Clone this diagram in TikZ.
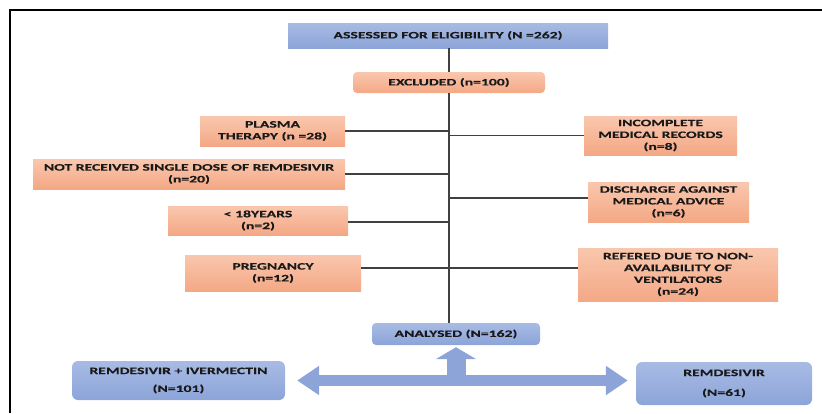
\documentclass[tikz,border=0pt]{standalone}
\usepackage{fontspec}
\setmainfont{Carlito}[FakeStretch=1.6,BoldFeatures={FakeBold=0.4}]
\usetikzlibrary{arrows.meta}
\definecolor{boxblue}{HTML}{8CA4D8}
\definecolor{boxblueL}{HTML}{A8BBE5}
\definecolor{boxorange}{HTML}{F4A885}
\definecolor{boxorangeL}{HTML}{F9C7AE}
\newcommand{\flowfont}{\fontsize{9.8}{11.8}\selectfont\bfseries}
\tikzset{
  boxsize/.style 2 args={minimum width=#1pt,minimum height=#2pt},
  bluebox/.style={top color=boxblueL,bottom color=boxblue,inner sep=0pt,align=center,font=\flowfont,text=black!90},
  orangebox/.style={top color=boxorangeL,bottom color=boxorange,inner sep=0pt,align=center,font=\flowfont,text=black!90},
  link/.style={draw=black!75,line width=1.2pt},
  fatarrow/.style={draw=boxblue,line width=#1}
}
\begin{document}
\begin{tikzpicture}[x=1pt,y=-1pt]
\useasboundingbox (0,0) rectangle (822,413);
\draw[line width=2pt] (10,413) -- (10,10) -- (822,10);

% top of the chart
\node[bluebox,boxsize={320}{25}] (assess) at (448,35.5) {ASSESSED FOR ELIGIBILITY (N =262)};
\node[orangebox,rounded corners=4pt,boxsize={192}{21}] (excl) at (449,82.5) {EXCLUDED (n=100)};

% excluded, left side
\node[orangebox,boxsize={145}{30}] (plasma) at (272.5,131) {PLASMA\\THERAPY (n =28)};
\node[orangebox,boxsize={312}{30}] (notrec) at (189,174) {NOT RECEIVED SINGLE DOSE OF REMDESIVIR\\(n=20)};
\node[orangebox,boxsize={180}{29}] (young) at (258,220.5) {< 18YEARS\\(n=2)};
\node[orangebox,boxsize={176}{36}] (preg) at (273,273) {PREGNANCY\\(n=12)};

% excluded, right side
\node[orangebox,boxsize={153}{39}] (incomp) at (660.5,135.5) {INCOMPLETE\\MEDICAL RECORDS\\(n=8)};
\node[orangebox,boxsize={161}{40}] (disch) at (668.5,202) {DISCHARGE AGAINST\\MEDICAL ADVICE\\(n=6)};
\node[orangebox,boxsize={200}{53}] (refer) at (678,274.5) {REFERED DUE TO NON-\\AVAILABILITY OF\\VENTILATORS\\(n=24)};

% bottom
\node[bluebox,rounded corners=4pt,boxsize={168}{22}] (anal) at (456,334) {ANALYSED (N=162)};
\node[bluebox,rounded corners=6pt,boxsize={213}{39}] (combo) at (178.5,380.5) {REMDESIVIR + IVERMECTIN\\[6pt](N=101)};
\node[bluebox,rounded corners=6pt,boxsize={176}{43}] (remd) at (724,383.5) {REMDESIVIR\\[8pt](N=61)};

\draw[link] (assess.south -| excl.north) -- (excl.north);
\draw[link] (excl.south) -- (excl.south |- anal.north);
\draw[link] (plasma.east) -- (plasma.east -| excl.south);
\draw[link] (notrec.east) -- (notrec.east -| excl.south);
\draw[link] ([yshift=-1.5pt]young.east) -- ([yshift=-1.5pt]young.east -| excl.south);
\draw[link] ([yshift=5pt]preg.east) -- ([yshift=5pt]preg.east -| excl.south);
\draw[link] (incomp.west) -- (incomp.west -| excl.south);
\draw[link] ([yshift=4pt]disch.west) -- ([yshift=4pt]disch.west -| excl.south);
\draw[link] ([yshift=6.5pt]refer.west) -- ([yshift=6.5pt]refer.west -| excl.south);

% block arrows
\coordinate (split) at (anal.south |- combo.east);
\draw[fatarrow=11pt,{Triangle[width=28pt,length=22pt]}-{Triangle[width=28pt,length=22pt]},
  shorten <=12pt,shorten >=8pt,fill=boxblue] (combo.east) -- (remd.west |- combo.east);
\draw[fatarrow=19pt,-{Triangle[width=40pt,length=12pt]},fill=boxblue,shorten >=2pt]
  ([yshift=5pt]split) -- (split |- anal.south);
\end{tikzpicture}
\end{document}
